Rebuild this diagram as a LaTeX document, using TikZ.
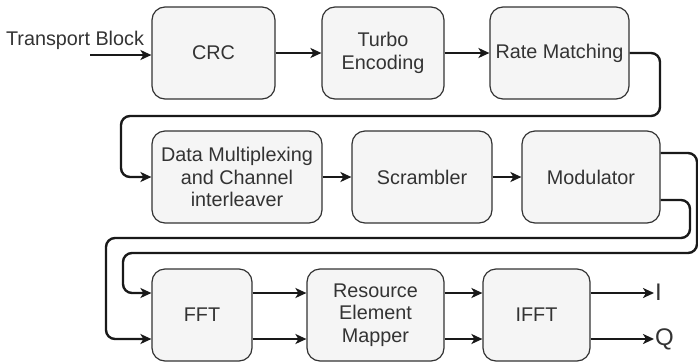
\documentclass[tikz,border=0pt]{standalone}
\usepackage{fontspec}
\setmainfont{Liberation Sans}
\usetikzlibrary{arrows.meta}
\definecolor{boxfill}{HTML}{F5F5F5}
\definecolor{boxline}{HTML}{333333}
\definecolor{txt}{HTML}{333333}
\begin{document}
\begin{tikzpicture}[x=1pt,y=-1pt,
  blk/.style={draw=boxline, fill=boxfill, rounded corners=13pt, line width=1.2pt,
    minimum height=92pt, inner sep=0pt, align=center, text=txt,
    font=\fontsize{19.8}{22.5}\selectfont},
  conn/.style={draw=black!90, line width=2.4pt, rounded corners=9pt,
    -{Stealth[length=11pt,width=10pt,inset=3pt]}},
  lbl/.style={text=txt, inner sep=1pt, font=\fontsize{19.8}{22.5}\selectfont},
  iq/.style={text=txt, inner sep=1pt, anchor=west, font=\fontsize{24}{26}\selectfont}]
\useasboundingbox (0,0) rectangle (698,362);
% row 1
\node[blk, minimum width=123pt] (crc) at (213.5,53) {CRC};
\node[blk, minimum width=122pt] (turbo) at (383,53) {Turbo\\Encoding};
\node[blk, minimum width=139pt] (rate) at (559.5,53) {Rate Matching};
% row 2
\node[blk, minimum width=170pt] (data) at (237,177) {Data Multiplexing\\and Channel\\interleaver};
\node[blk, minimum width=140pt] (scr) at (422,177) {Scrambler};
\node[blk, minimum width=138pt] (mod) at (591,177) {Modulator};
% row 3
\node[blk, minimum width=100pt] (fft) at (202,315) {FFT};
\node[blk, minimum width=137pt] (rem) at (375.5,315) {Resource\\Element\\Mapper};
\node[blk, minimum width=107pt] (ifft) at (536.5,315) {IFFT};
% labels
\node[lbl, anchor=base] (tb) at (75,45) {Transport Block};
\coordinate (tbstart) at (90,55);
\node[iq] (I) at (654,292) {I};
\node[iq] (Q) at (654,339) {Q};
% connectors
\draw[conn] (tbstart) -- (crc.west |- tbstart);
\draw[conn] (crc) -- (turbo);
\draw[conn] (turbo) -- (rate);
\draw[conn] (rate.east) -- (660,53) -- (660,116) -- (121,116) -- (121,177) -- (data.west);
\draw[conn] (data) -- (scr);
\draw[conn] (scr) -- (mod);
\draw[conn] ([yshift=24pt]mod.east) -- (697,153) -- (697,253) -- (123,253) -- (123,293) -- ([yshift=22pt]fft.west);
\draw[conn] ([yshift=-23pt]mod.east) -- (690,200) -- (690,238) -- (106,238) -- (106,339) -- ([yshift=-24pt]fft.west);
\draw[conn] ([yshift=22pt]fft.east) -- ([yshift=22pt]rem.west);
\draw[conn] ([yshift=-24pt]fft.east) -- ([yshift=-24pt]rem.west);
\draw[conn] ([yshift=22pt]rem.east) -- ([yshift=22pt]ifft.west);
\draw[conn] ([yshift=-24pt]rem.east) -- ([yshift=-24pt]ifft.west);
\draw[conn] ([yshift=22pt]ifft.east) -- (I.west |- 0,293);
\draw[conn] ([yshift=-24pt]ifft.east) -- (Q.west |- 0,339);
\end{tikzpicture}
\end{document}
